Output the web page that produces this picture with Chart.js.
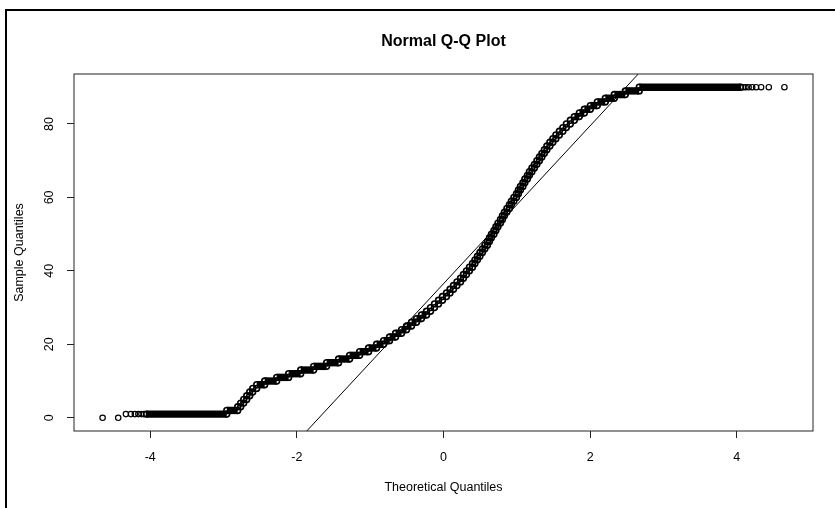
<!DOCTYPE html>
<html>
<head>
<meta charset="utf-8">
<title>Normal Q-Q Plot</title>
<script src="https://cdn.jsdelivr.net/npm/chart.js@4.4.0/dist/chart.umd.min.js"></script>
<style>
  html, body { margin: 0; padding: 0; background: #fff; }
  canvas { display: block; }
</style>
</head>
<body>
<canvas id="qqChart" width="835" height="508"></canvas>
<script>
// sample values that cover a run of theoretical quantiles (the dense part of the plot)
const bandValues = [
   1,  2,  3,  4,  5,  6,  7,  8,  9, 10,
  11, 12, 13, 14, 15, 16, 17, 18, 19, 20,
  21, 22, 23, 24, 25, 26, 27, 28, 29, 30,
  31, 32, 33, 34, 35, 36, 37, 38, 39, 40,
  41, 42, 43, 44, 45, 46, 47, 48, 49, 50,
  51, 52, 53, 54, 55, 56, 57, 58, 59, 60,
  61, 62, 63, 64, 65, 66, 67, 68, 69, 70,
  71, 72, 73, 74, 75, 76, 77, 78, 79, 80,
  81, 82, 83, 84, 85, 86, 87, 88, 89, 90
];
// theoretical quantile where each run starts, last entry = where the run of 90 ends
const bandEdges = [
  -4.053, -2.956, -2.807, -2.766, -2.725, -2.684, -2.643, -2.602, -2.548, -2.439,
  -2.275, -2.112, -1.948, -1.771, -1.594, -1.431, -1.281, -1.144, -1.022, -0.913,
  -0.817, -0.736, -0.654, -0.572, -0.504, -0.436, -0.368, -0.300, -0.232, -0.177,
  -0.123, -0.068, -0.014,  0.041,  0.089,  0.136,  0.184,  0.232,  0.272,  0.313,
   0.354,  0.395,  0.429,  0.463,  0.497,  0.531,  0.565,  0.599,  0.627,  0.654,
   0.688,  0.715,  0.743,  0.777,  0.804,  0.831,  0.865,  0.899,  0.926,  0.960,
   0.995,  1.022,  1.049,  1.083,  1.110,  1.144,  1.172,  1.206,  1.240,  1.274,
   1.308,  1.342,  1.376,  1.410,  1.451,  1.492,  1.533,  1.580,  1.628,  1.676,
   1.730,  1.785,  1.853,  1.921,  2.003,  2.098,  2.207,  2.330,  2.480,  2.670,
   4.053
];
// isolated points in both tails
const tailX = [-4.650, -4.437, -4.332, -4.264, -4.210, -4.162, -4.121, -4.087,
                4.087,  4.121,  4.162,  4.210,  4.264,  4.332,  4.437,  4.650];
const tailY = [0, 0, 1, 1, 1, 1, 1, 1,
               90, 90, 90, 90, 90, 90, 90, 90];
// qqline goes through the 1st and 3rd quartiles
const qqProbs = [-0.6745, 0.6745];
const qqQuartiles = [22, 51];

const xTicks = [-4, -2, 0, 2, 4];
const yTicks = [0, 20, 40, 60, 80];
const xLimits = [-5.04, 5.04];
const yLimits = [-3.6, 93.6];

const bandPoints = [];
bandValues.forEach((v, i) => {
    bandPoints.push({x: bandEdges[i], y: v}, {x: bandEdges[i + 1], y: v});
});
const tailPoints = tailX.map((x, i) => ({x: x, y: tailY[i]}));

// abline through the quartiles, stretched over the whole x range (clipped by the chart)
const qqSlope = (qqQuartiles[1] - qqQuartiles[0]) / (qqProbs[1] - qqProbs[0]);
const qqIntercept = qqQuartiles[0] - qqSlope * qqProbs[0];
const qqLine = xLimits.map(x => ({x: x, y: qqIntercept + qqSlope * x}));

const fontFamily = "'Liberation Sans', Arial, sans-serif";
const font = {family: fontFamily, size: 12.5};
const noColor = 'rgba(0,0,0,0)';
const ringRadius = 2.9;
const ringWidth = 1.6;

const framePlugin = {
    id: 'frame',
    beforeDraw(chart) {
        const {ctx, width, height} = chart;
        ctx.save();
        ctx.fillStyle = '#fff';
        ctx.fillRect(0, 0, width, height);
        // dark frame of the screenshot (top and left)
        ctx.strokeStyle = '#000';
        ctx.lineWidth = 2;
        ctx.beginPath();
        ctx.moveTo(6, height);
        ctx.lineTo(6, 10);
        ctx.lineTo(width, 10);
        ctx.stroke();
        ctx.restore();
    },
    afterDatasetsDraw(chart) {
        const {ctx, chartArea: a} = chart;
        ctx.save();
        ctx.strokeStyle = '#222';
        ctx.lineWidth = 1;
        ctx.strokeRect(a.left, a.top, a.right - a.left, a.bottom - a.top);
        // main title, centred over the plot region like R does
        ctx.fillStyle = '#000';
        ctx.font = 'bold 16px ' + fontFamily;
        ctx.textAlign = 'center';
        ctx.textBaseline = 'middle';
        ctx.fillText('Normal Q-Q Plot', (a.left + a.right) / 2, 42);
        ctx.restore();
    }
};

const ctx = document.getElementById('qqChart').getContext('2d');
const qqChart = new Chart(ctx, {
    type: 'line',
    data: {
        datasets: [{
            label: 'qqline',
            data: qqLine,
            borderColor: '#000',
            borderWidth: 1,
            pointRadius: 0,
            tension: 0
        },
        {
            label: 'sample',
            data: bandPoints,
            borderColor: '#000',
            borderWidth: 2 * ringRadius + ringWidth,
            borderCapStyle: 'butt',
            pointRadius: ringRadius,
            pointBorderWidth: ringWidth,
            pointBorderColor: '#000',
            pointBackgroundColor: noColor,
            tension: 0,
            segment: {
                // only the long flat runs get a solid stroke; short runs stay as rings
                borderColor: c => {
                    if (c.p0.parsed.y !== c.p1.parsed.y) return noColor;
                    return (c.p1.x - c.p0.x) < 2 * ringRadius - ringWidth ? noColor : '#000';
                }
            }
        },
        {
            label: 'tails',
            data: tailPoints,
            showLine: false,
            pointRadius: 2.7,
            pointBorderWidth: 1.2,
            pointBorderColor: '#000',
            pointBackgroundColor: noColor
        }]
    },
    options: {
        responsive: false,
        animation: false,
        events: [],
        layout: {
            padding: {left: 0, right: 22, top: 74, bottom: 0}
        },
        plugins: {
            legend: {display: false},
            tooltip: {enabled: false},
            title: {display: false}
        },
        scales: {
            x: {
                type: 'linear',
                min: xLimits[0],
                max: xLimits[1],
                afterBuildTicks: s => { s.ticks = xTicks.map(v => ({value: v})); },
                afterFit: s => { s.height = 77; },
                grid: {drawOnChartArea: false, tickLength: 7, tickColor: '#222'},
                border: {display: false},
                ticks: {color: '#000', font: font, padding: 12, maxRotation: 0},
                title: {
                    display: true,
                    text: 'Theoretical Quantiles',
                    color: '#000',
                    font: font,
                    padding: {top: 0, bottom: 13}
                }
            },
            y: {
                type: 'linear',
                min: yLimits[0],
                max: yLimits[1],
                afterBuildTicks: s => { s.ticks = yTicks.map(v => ({value: v})); },
                afterFit: s => { s.width = 74; },
                grid: {drawOnChartArea: false, tickLength: 7, tickColor: '#222'},
                border: {display: false},
                ticks: {
                    color: '#000',
                    font: font,
                    padding: 11,
                    minRotation: 90,
                    maxRotation: 90,
                    crossAlign: 'center'
                },
                title: {
                    display: true,
                    text: 'Sample Quantiles',
                    color: '#000',
                    font: font,
                    padding: {top: 12, bottom: 0}
                }
            }
        }
    },
    plugins: [framePlugin]
});
</script>
</body>
</html>
